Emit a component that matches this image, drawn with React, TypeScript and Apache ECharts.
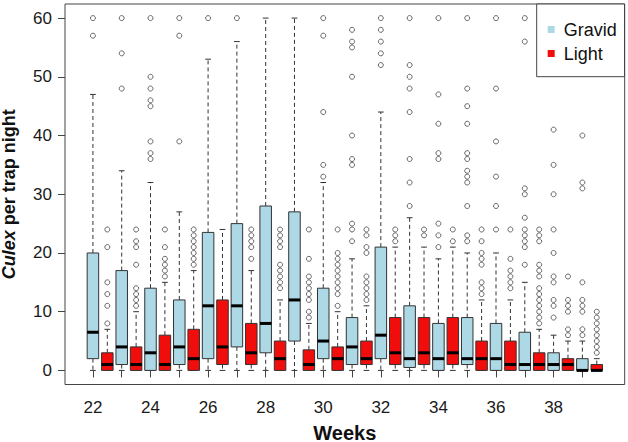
import { useEffect, useRef } from 'react';
import * as echarts from 'echarts';

const weeks = [22, 23, 24, 25, 26, 27, 28, 29, 30, 31, 32, 33, 34, 35, 36, 37, 38, 39];
const xTickValues = [22, 23, 24, 25, 26, 27, 28, 29, 30, 31, 32, 33, 34, 35, 36, 37, 38, 39];
const xLabelValues = [22, 24, 26, 28, 30, 32, 34, 36, 38];
const yTickValues = [0, 10, 20, 30, 40, 50, 60];

// Gravid trap
const gravidMin = [0, 0, 0, 0, 0, 0, 0, 0, 0, 0, 0, 0, 0, 0, 0, 0, 0, 0];
const gravidQ1 = [2, 1, 0, 1, 2, 4, 3, 5, 2, 1, 2, 0.5, 0, 1, 0, 0, 0, 0];
const gravidMedian = [6.5, 4, 3, 4, 11, 11, 8, 12, 5, 4, 6, 2, 2, 2, 2, 1, 1, 0];
const gravidQ3 = [20, 17, 14, 12, 23.5, 25, 28, 27, 14, 9, 21, 11, 8, 9, 8, 6.5, 3, 2];
const gravidMax = [47, 34, 32, 27, 53, 56, 60, 60, 32, 19, 44, 26, 19, 20, 20, 15, 6, 5];
const gravidOutliers = [
  [57, 60],
  [48, 54, 60],
  [36, 37, 39, 45, 46, 48, 50, 60],
  [39, 57, 60],
  [60],
  [60],
  [],
  [],
  [33, 35, 44, 57, 60],
  [22, 24, 25, 35, 36, 40, 50, 55, 56, 58],
  [52, 54, 56, 58, 60],
  [28, 32, 36, 44, 48, 50, 52, 60],
  [21, 23, 25, 36, 37, 42, 47, 60],
  [22, 23, 28, 32, 33, 34, 36, 37, 42, 45, 48, 60],
  [24, 28, 33, 39, 48, 60],
  [18, 21, 22, 23, 24, 26, 30, 31, 56, 60],
  [9, 11, 12, 15, 16, 20, 24, 30, 35, 41],
  [6, 7, 10, 11, 12, 15, 31, 32, 40],
];

// Light trap
const lightMin = [0, 0, 0, 0, 0, 0, 0, 0, 0, 0, 0, 0, 0, 0, 0, 0, 0, 0];
const lightQ1 = [0, 0, 0, 0, 1, 1, 0, 0, 0, 1, 1, 1, 1, 0, 0, 0, 0, 0];
const lightMedian = [1, 1, 1, 2, 4, 3, 2, 1, 2, 2, 3, 3, 3, 2, 1, 1, 1, 0];
const lightQ3 = [3, 4, 6, 7, 12, 8, 5, 3.5, 4, 5, 9, 9, 9, 5, 5, 3, 2, 1];
const lightMax = [7, 10, 15, 17, 24, 17, 12, 8, 10, 11, 21, 21, 21, 12, 12, 7, 5, 2];
const lightOutliers = [
  [8, 11, 13, 15, 21, 24],
  [11, 12, 13, 14, 18, 21, 22, 24],
  [16, 17, 18, 19, 21, 24],
  [18, 19, 20, 21, 22, 23, 24],
  [],
  [19, 21, 22, 23, 24],
  [14, 15, 16, 17, 18, 21, 22, 23, 24],
  [9, 10, 12, 13, 14, 15, 16, 19, 24],
  [11, 13, 14, 15, 16, 17, 18, 19, 20, 24],
  [12, 13, 14, 15, 16, 20, 21, 23, 24],
  [22, 23, 24],
  [23, 24],
  [22, 24],
  [13, 14, 15, 18, 19, 20, 22, 24],
  [14, 15, 16, 17, 19, 24],
  [8, 9, 10, 11, 12, 13, 14, 16, 17, 18, 22, 23, 24],
  [6, 7, 10, 11, 12, 16],
  [3, 4, 5, 6, 7, 8, 9, 10],
];

const GRAVID_COLOR = '#add8e6';
const LIGHT_COLOR = '#f20d0d';
const LINE_COLOR = '#333333';
const FONT = '"Liberation Sans", Arial, Helvetica, sans-serif';
const BOX_WIDTH = 0.4; // in weeks
const LIGHT_OFFSET = 0.5; // in weeks

const makeRender = (fill: string) => (_params: any, api: any) => {
  const x = api.value(0);
  const pMin = api.coord([x, api.value(1)]);
  const pQ1 = api.coord([x, api.value(2)]);
  const pMed = api.coord([x, api.value(3)]);
  const pQ3 = api.coord([x, api.value(4)]);
  const pMax = api.coord([x, api.value(5)]);
  const w = api.size([BOX_WIDTH, 0])[0];
  const cx = pMed[0];
  const hw = w / 2;
  const sw = w / 4;
  const dash = { stroke: LINE_COLOR, lineWidth: 1, lineDash: [4, 3] };
  const solid = { stroke: LINE_COLOR, lineWidth: 1 };
  return {
    type: 'group',
    children: [
      { type: 'line', shape: { x1: cx, y1: pQ3[1], x2: cx, y2: pMax[1] }, style: dash },
      { type: 'line', shape: { x1: cx, y1: pQ1[1], x2: cx, y2: pMin[1] }, style: dash },
      { type: 'line', shape: { x1: cx - sw, y1: pMax[1], x2: cx + sw, y2: pMax[1] }, style: solid },
      { type: 'line', shape: { x1: cx - sw, y1: pMin[1], x2: cx + sw, y2: pMin[1] }, style: solid },
      {
        type: 'rect',
        shape: { x: cx - hw, y: pQ3[1], width: w, height: pQ1[1] - pQ3[1] },
        style: { fill, stroke: LINE_COLOR, lineWidth: 1 },
      },
      { type: 'line', shape: { x1: cx - hw, y1: pMed[1], x2: cx + hw, y2: pMed[1] }, style: { stroke: '#000', lineWidth: 3 } },
    ],
  };
};

export default function App() {
  const ref = useRef<HTMLDivElement>(null);
  useEffect(() => {
    document.body.style.margin = '0';
    const chart = echarts.init(ref.current!, null, { renderer: 'svg' });

    const gravidBoxes = weeks.map((w, i) => [w, gravidMin[i], gravidQ1[i], gravidMedian[i], gravidQ3[i], gravidMax[i]]);
    const lightBoxes = weeks.map((w, i) => [w + LIGHT_OFFSET, lightMin[i], lightQ1[i], lightMedian[i], lightQ3[i], lightMax[i]]);
    const gravidOut = weeks.flatMap((w, i) => gravidOutliers[i].map((v) => [w, v]));
    const lightOut = weeks.flatMap((w, i) => lightOutliers[i].map((v) => [w + LIGHT_OFFSET, v]));

    const outlierStyle = { color: 'rgba(0,0,0,0)', borderColor: '#444', borderWidth: 1 };

    chart.setOption({
      animation: false,
      backgroundColor: '#fff',
      grid: {
        left: 65,
        right: 3.3,
        top: 4,
        bottom: 57.5,
        show: true,
        borderColor: '#444',
        borderWidth: 1,
        containLabel: false,
        outerBoundsMode: 'none',
      },
      legend: {
        data: ['Gravid', 'Light'],
        orient: 'vertical',
        left: 547.7,
        top: 19.5,
        padding: 0,
        itemWidth: 7,
        itemHeight: 7,
        itemGap: 4,
        icon: 'rect',
        selectedMode: false,
        textStyle: { fontSize: 18, lineHeight: 20, color: '#111', fontFamily: FONT, padding: [0, 0, 0, 4] },
        z: 10,
      },
      xAxis: {
        type: 'value',
        min: 21.03,
        max: 40.47,
        axisLine: { show: false },
        splitLine: { show: false },
        axisTick: { show: true, customValues: xTickValues, length: 7, lineStyle: { color: '#444' } },
        axisLabel: { customValues: xLabelValues, fontSize: 17, color: '#1a1a1a', margin: 14, fontFamily: FONT },
        name: 'Weeks',
        nameLocation: 'middle',
        nameGap: 38,
        nameTextStyle: { fontSize: 20, fontWeight: 'bold', color: '#111', fontFamily: FONT },
      },
      yAxis: {
        type: 'value',
        min: -2.4,
        max: 62.4,
        axisLine: { show: false },
        splitLine: { show: false },
        axisTick: { show: true, customValues: yTickValues, length: 7, lineStyle: { color: '#444' } },
        axisLabel: { customValues: yTickValues, fontSize: 17, color: '#1a1a1a', margin: 13, fontFamily: FONT },
        name: '{i|Culex} per trap night',
        nameLocation: 'middle',
        nameGap: 47,
        nameTextStyle: {
          fontSize: 18,
          fontWeight: 'bold',
          color: '#111',
          fontFamily: FONT,
          rich: { i: { fontSize: 18, fontWeight: 'bold', fontStyle: 'italic', color: '#111', fontFamily: FONT } },
        },
      },
      graphic: [
        {
          type: 'rect',
          shape: { x: 536.7, y: 4, width: 87.8, height: 72.7 },
          style: { fill: '#fff', stroke: '#444', lineWidth: 1 },
          z: 5,
        },
      ],
      series: [
        {
          type: 'custom',
          name: 'Gravid',
          data: gravidBoxes,
          renderItem: makeRender(GRAVID_COLOR),
          encode: { x: 0, y: [1, 2, 3, 4, 5] },
          itemStyle: { color: GRAVID_COLOR },
          z: 2,
        },
        {
          type: 'custom',
          name: 'Light',
          data: lightBoxes,
          renderItem: makeRender(LIGHT_COLOR),
          encode: { x: 0, y: [1, 2, 3, 4, 5] },
          itemStyle: { color: LIGHT_COLOR },
          z: 2,
        },
        {
          type: 'scatter',
          name: 'Gravid outliers',
          data: gravidOut,
          symbol: 'circle',
          symbolSize: 5,
          itemStyle: outlierStyle,
          z: 3,
        },
        {
          type: 'scatter',
          name: 'Light outliers',
          data: lightOut,
          symbol: 'circle',
          symbolSize: 5,
          itemStyle: outlierStyle,
          z: 3,
        },
      ],
    });
    return () => chart.dispose();
  }, []);
  return <div ref={ref} style={{ width: 628, height: 442, position: 'absolute', left: 0, top: 0 }} />;
}
